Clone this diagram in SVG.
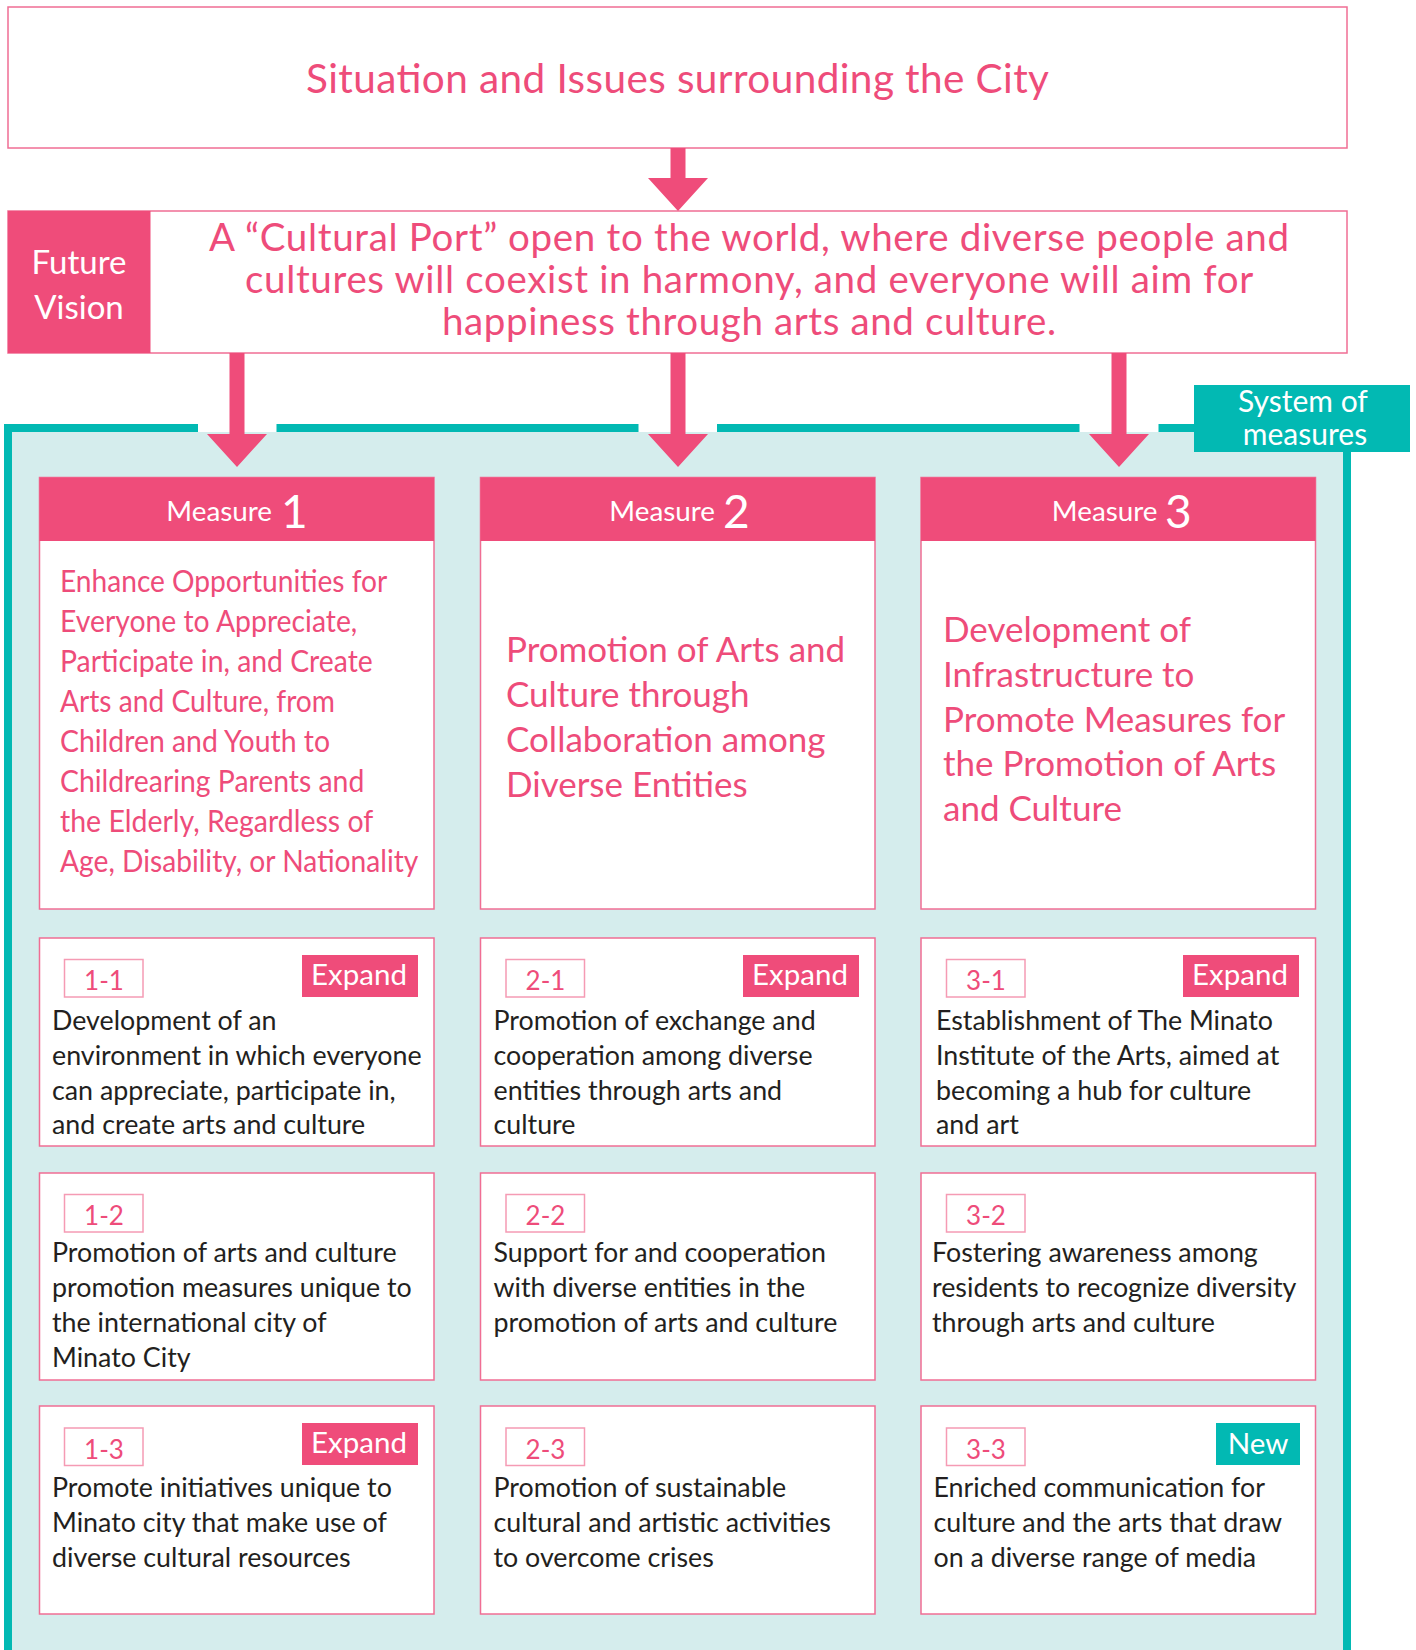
<svg xmlns="http://www.w3.org/2000/svg" width="1416" height="1650" viewBox="0 0 1416 1650">
<style>
text{font-family:Lato,"Open Sans","Liberation Sans",sans-serif}
.pinkbox{fill:#fff;stroke:#f06e94;stroke-width:1.5}
.pinkfill{fill:#ef4c7a}
.teal{fill:#02b9b3}
.ttl{fill:#ee4c7a}
.wht{fill:#fff}
.tag{fill:#fff;stroke:#f59bb4;stroke-width:1.5}
.tagt{fill:#ee4c7a;font-size:26px;text-anchor:middle}
.badge{fill:#fff;font-size:29.5px;text-anchor:middle}
.body{fill:#231f20;font-size:26.8px}
.hdr{fill:#fff;font-size:27.8px;text-anchor:end}
.num{fill:#fff;font-size:46px}
.m1{fill:#ee4c7a;font-size:30px}
.m23{fill:#ee4c7a;font-size:35px}
.arrow{fill:#ef4c7a}
.frameline{stroke:#02b9b3;stroke-width:8;fill:none}
</style>

<g id="situation">
<rect x="8" y="7" width="1339" height="141" class="pinkbox"/>
<text x="306" y="93" class="ttl" font-size="40.5" textLength="743">Situation and Issues surrounding the City</text>
</g>

<g id="future-vision">
<rect x="8" y="211" width="1339" height="142" class="pinkbox"/>
<rect x="8" y="211" width="142.5" height="142" class="pinkfill"/>
<text x="79" y="274" class="wht" font-size="33" text-anchor="middle">Future</text>
<text x="79" y="319" class="wht" font-size="33" text-anchor="middle">Vision</text>
<text class="ttl" font-size="38.5">
<tspan x="209" y="251" textLength="1080">A “Cultural Port” open to the world, where diverse people and</tspan>
<tspan x="245" y="293" textLength="1007.5">cultures will coexist in harmony, and everyone will aim for</tspan>
<tspan x="442" y="335" textLength="614">happiness through arts and culture.</tspan>
</text>
</g>

<g id="system-of-measures">
<rect x="12" y="432" width="1331" height="1220" fill="#d5eded"/>
<path class="frameline" d="M8,1652 V428 H198 M276.5,428 H638.5 M717,428 H1079.5 M1158.5,428 H1195 M1347,452 V1652"/>
<rect x="1194" y="385" width="216" height="67" class="teal"/>
<text x="1303" y="412" class="wht" font-size="30" text-anchor="middle">System of</text>
<text x="1305" y="445" class="wht" font-size="30" text-anchor="middle">measures</text>
</g>

<g id="connectors">
<path class="arrow" d="M670.5,148 H685.5 V178 H708 L678,211 L648,178 H670.5 Z"/>
<path class="arrow" d="M229.5,353 H244.5 V434 H267 L237,467 L207,434 H229.5 Z"/>
<path class="arrow" d="M670.5,353 H685.5 V434 H708 L678,467 L648,434 H670.5 Z"/>
<path class="arrow" d="M1111.5,353 H1126.5 V434 H1149 L1119,467 L1089,434 H1111.5 Z"/>
</g>

<g id="measure-1">
<rect x="39.5" y="477.5" width="394.5" height="431.5" class="pinkbox"/>
<rect x="39.5" y="477.5" width="394.5" height="63.5" class="pinkfill"/>
<text x="272" y="521" class="hdr">Measure</text>
<text x="281" y="528" class="num">1</text>
<text class="m1">
<tspan x="60" y="592" textLength="326.7" lengthAdjust="spacingAndGlyphs">Enhance Opportunities for</tspan>
<tspan x="60" y="632" textLength="297.3" lengthAdjust="spacingAndGlyphs">Everyone to Appreciate,</tspan>
<tspan x="60" y="672" textLength="312.7" lengthAdjust="spacingAndGlyphs">Participate in, and Create</tspan>
<tspan x="60" y="712" textLength="275" lengthAdjust="spacingAndGlyphs">Arts and Culture, from</tspan>
<tspan x="60" y="752" textLength="270" lengthAdjust="spacingAndGlyphs">Children and Youth to</tspan>
<tspan x="60" y="792" textLength="304.3" lengthAdjust="spacingAndGlyphs">Childrearing Parents and</tspan>
<tspan x="60" y="832" textLength="312.7" lengthAdjust="spacingAndGlyphs">the Elderly, Regardless of</tspan>
<tspan x="60" y="872" textLength="358.3" lengthAdjust="spacingAndGlyphs">Age, Disability, or Nationality</tspan>
</text>
</g>

<g id="measure-2">
<rect x="480.5" y="477.5" width="394.5" height="431.5" class="pinkbox"/>
<rect x="480.5" y="477.5" width="394.5" height="63.5" class="pinkfill"/>
<text x="715" y="521" class="hdr">Measure</text>
<text x="723" y="528" class="num">2</text>
<text class="m23">
<tspan x="506" y="662">Promotion of Arts and</tspan>
<tspan x="506" y="707">Culture through</tspan>
<tspan x="506" y="752">Collaboration among</tspan>
<tspan x="506" y="797">Diverse Entities</tspan>
</text>
</g>

<g id="measure-3">
<rect x="921" y="477.5" width="394.5" height="431.5" class="pinkbox"/>
<rect x="921" y="477.5" width="394.5" height="63.5" class="pinkfill"/>
<text x="1157.5" y="521" class="hdr">Measure</text>
<text x="1165" y="528" class="num">3</text>
<text class="m23">
<tspan x="943" y="642">Development of</tspan>
<tspan x="943" y="687">Infrastructure to</tspan>
<tspan x="943" y="732">Promote Measures for</tspan>
<tspan x="943" y="776">the Promotion of Arts</tspan>
<tspan x="943" y="821">and Culture</tspan>
</text>
</g>

<g id="item-1-1">
<rect x="39.5" y="938" width="394.5" height="208" class="pinkbox"/>
<rect x="64.5" y="959.5" width="78.5" height="37.5" class="tag"/>
<text x="104" y="990" class="tagt">1-1</text>
<rect x="302" y="955" width="116" height="42" class="pinkfill"/>
<text x="359" y="985" class="badge">Expand</text>
<text class="body"><tspan x="52" y="1030">Development of an</tspan><tspan x="52" y="1065">environment in which everyone</tspan><tspan x="52" y="1100">can appreciate, participate in,</tspan><tspan x="52" y="1134">and create arts and culture</tspan></text>
</g>

<g id="item-2-1">
<rect x="480.5" y="938" width="394.5" height="208" class="pinkbox"/>
<rect x="506" y="959.5" width="78.5" height="37.5" class="tag"/>
<text x="545.5" y="990" class="tagt">2-1</text>
<rect x="743" y="955" width="116" height="42" class="pinkfill"/>
<text x="800" y="985" class="badge">Expand</text>
<text class="body"><tspan x="493.5" y="1030">Promotion of exchange and</tspan><tspan x="493.5" y="1065">cooperation among diverse</tspan><tspan x="493.5" y="1100">entities through arts and</tspan><tspan x="493.5" y="1134">culture</tspan></text>
</g>

<g id="item-3-1">
<rect x="921" y="938" width="394.5" height="208" class="pinkbox"/>
<rect x="946.5" y="959.5" width="78.5" height="37.5" class="tag"/>
<text x="986" y="990" class="tagt">3-1</text>
<rect x="1183" y="955" width="116" height="42" class="pinkfill"/>
<text x="1240" y="985" class="badge">Expand</text>
<text class="body"><tspan x="936" y="1030">Establishment of The Minato</tspan><tspan x="936" y="1065">Institute of the Arts, aimed at</tspan><tspan x="936" y="1100">becoming a hub for culture</tspan><tspan x="936" y="1134">and art</tspan></text>
</g>

<g id="item-1-2">
<rect x="39.5" y="1173" width="394.5" height="207" class="pinkbox"/>
<rect x="64.5" y="1194.5" width="78.5" height="37.5" class="tag"/>
<text x="104" y="1224.5" class="tagt">1-2</text>
<text class="body"><tspan x="52" y="1262">Promotion of arts and culture</tspan><tspan x="52" y="1297">promotion measures unique to</tspan><tspan x="52" y="1332">the international city of</tspan><tspan x="52" y="1367">Minato City</tspan></text>
</g>

<g id="item-2-2">
<rect x="480.5" y="1173" width="394.5" height="207" class="pinkbox"/>
<rect x="506" y="1194.5" width="78.5" height="37.5" class="tag"/>
<text x="545.5" y="1224.5" class="tagt">2-2</text>
<text class="body"><tspan x="493.5" y="1262">Support for and cooperation</tspan><tspan x="493.5" y="1297">with diverse entities in the</tspan><tspan x="493.5" y="1332">promotion of arts and culture</tspan></text>
</g>

<g id="item-3-2">
<rect x="921" y="1173" width="394.5" height="207" class="pinkbox"/>
<rect x="946.5" y="1194.5" width="78.5" height="37.5" class="tag"/>
<text x="986" y="1224.5" class="tagt">3-2</text>
<text class="body"><tspan x="932" y="1262">Fostering awareness among</tspan><tspan x="932" y="1297">residents to recognize diversity</tspan><tspan x="932" y="1332">through arts and culture</tspan></text>
</g>

<g id="item-1-3">
<rect x="39.5" y="1406" width="394.5" height="208" class="pinkbox"/>
<rect x="64.5" y="1428" width="78.5" height="37.5" class="tag"/>
<text x="104" y="1458.5" class="tagt">1-3</text>
<rect x="302" y="1423" width="116" height="42" class="pinkfill"/>
<text x="359" y="1453" class="badge">Expand</text>
<text class="body"><tspan x="52" y="1497">Promote initiatives unique to</tspan><tspan x="52" y="1532">Minato city that make use of</tspan><tspan x="52" y="1567">diverse cultural resources</tspan></text>
</g>

<g id="item-2-3">
<rect x="480.5" y="1406" width="394.5" height="208" class="pinkbox"/>
<rect x="506" y="1428" width="78.5" height="37.5" class="tag"/>
<text x="545.5" y="1458.5" class="tagt">2-3</text>
<text class="body"><tspan x="493.5" y="1497">Promotion of sustainable</tspan><tspan x="493.5" y="1532">cultural and artistic activities</tspan><tspan x="493.5" y="1567">to overcome crises</tspan></text>
</g>

<g id="item-3-3">
<rect x="921" y="1406" width="394.5" height="208" class="pinkbox"/>
<rect x="946.5" y="1428" width="78.5" height="37.5" class="tag"/>
<text x="986" y="1458.5" class="tagt">3-3</text>
<rect x="1216" y="1423" width="84" height="42" class="teal"/>
<text x="1258" y="1454" class="badge">New</text>
<text class="body"><tspan x="933.5" y="1497">Enriched communication for</tspan><tspan x="933.5" y="1532">culture and the arts that draw</tspan><tspan x="933.5" y="1567">on a diverse range of media</tspan></text>
</g>
</svg>
